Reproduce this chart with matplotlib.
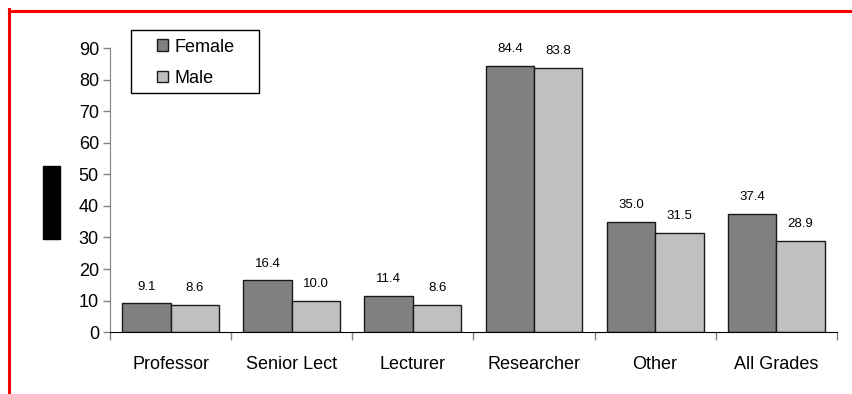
import numpy as np
import matplotlib.pyplot as plt
from matplotlib.patches import Rectangle
from matplotlib.lines import Line2D

plt.rcParams['font.family'] = ['Liberation Sans', 'DejaVu Sans']

grades = ['Professor', 'Senior Lect', 'Lecturer', 'Researcher', 'Other', 'All Grades']
female = [9.1, 16.4, 11.4, 84.4, 35.0, 37.4]
male = [8.6, 10.0, 8.6, 83.8, 31.5, 28.9]

fig = plt.figure(figsize=(8.53, 3.94), dpi=100)
ax = fig.add_axes([0.129, 0.157, 0.852, 0.721])

x = np.arange(len(grades))
w = 0.4
b1 = ax.bar(x - w/2, female, w, color='#808080', edgecolor='#1a1a1a', linewidth=1, label='Female')
b2 = ax.bar(x + w/2, male, w, color='#c0c0c0', edgecolor='#1a1a1a', linewidth=1, label='Male')

for bars, vals in ((b1, female), (b2, male)):
    for r, v in zip(bars, vals):
        ax.annotate('%.1f' % v, (r.get_x() + r.get_width()/2, v), xytext=(0, 12),
                    textcoords='offset points', ha='center', va='center', fontsize=9.5)

ax.set_xlim(-0.5, len(grades) - 0.5)
ax.set_ylim(0, 90)
ax.set_yticks(range(0, 91, 10))
ax.tick_params(axis='y', labelsize=13, length=5, width=1, color='#808080', pad=3)

# category boundaries get the ticks, names sit in between
ax.set_xticks(np.arange(-0.5, len(grades), 1))
ax.set_xticklabels([])
ax.set_xticks(x, grades, minor=True)
ax.tick_params(axis='x', which='major', length=6, width=1, color='#808080')
ax.tick_params(axis='x', which='minor', length=0, labelsize=13, pad=17)

for s in ['top', 'right']:
    ax.spines[s].set_visible(False)
ax.spines['left'].set_color('#808080')
ax.spines['bottom'].set_color('black')

leg = fig.legend(loc='upper left', bbox_to_anchor=(157/853, 1 - 38.5/394), frameon=False,
                 fontsize=13, handlelength=0.6, handleheight=0.6, handletextpad=0.35,
                 labelspacing=0.8, borderpad=0, borderaxespad=0)
fig.add_artist(Rectangle((131/853, 1 - 93/394), 128/853, 63/394, transform=fig.transFigure,
                         fill=False, edgecolor='black', linewidth=1))

# outline along top and left edge
fig.add_artist(Line2D([8.5/853, 1], [1 - 10.5/394, 1 - 10.5/394], transform=fig.transFigure,
                      color='red', linewidth=2.2))
fig.add_artist(Line2D([8.5/853, 8.5/853], [0, 1 - 9/394], transform=fig.transFigure,
                      color='red', linewidth=2.2))

# y-axis label blacked out
fig.add_artist(Rectangle((43/853, 1 - 239/394), 17/853, 73/394, transform=fig.transFigure,
                         color='black'))

fig.savefig('out.png', dpi=100)
